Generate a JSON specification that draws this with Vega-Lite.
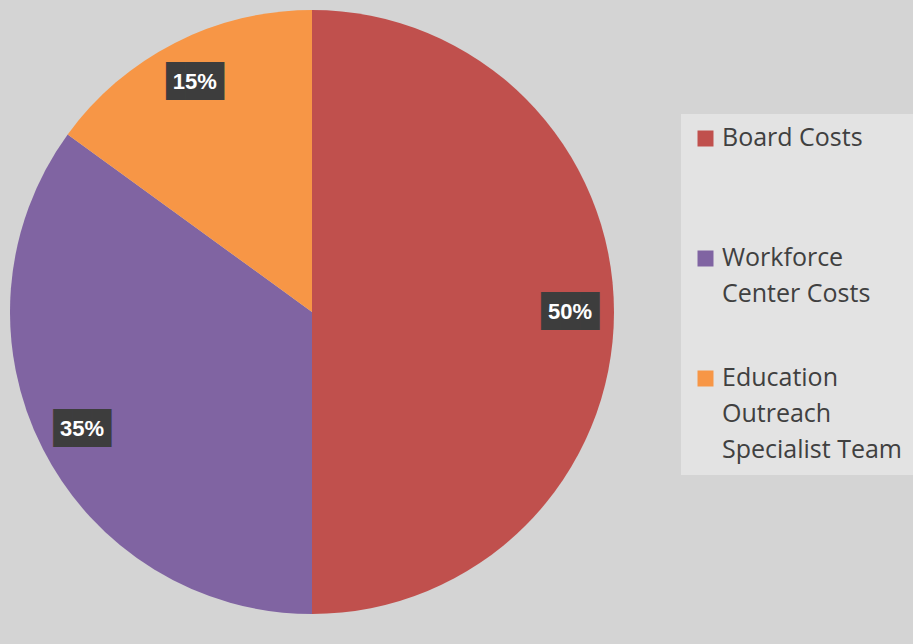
{
  "$schema": "https://vega.github.io/schema/vega-lite/v6.json",
  "width": 624,
  "height": 624,
  "padding": {"left": 0, "top": 0, "right": 0, "bottom": 20},
  "background": "#d4d4d4",
  "config": {"view": {"stroke": null}},
  "data": {
    "values": [
      {"category": "Board Costs", "share": 50, "rank": 1, "label": "50%"},
      {"category": "Workforce Center Costs", "share": 35, "rank": 2, "label": "35%"},
      {"category": "Education Outreach Specialist Team", "share": 15, "rank": 3, "label": "15%"}
    ]
  },
  "encoding": {
    "theta": {"field": "share", "type": "quantitative", "stack": true},
    "order": {"field": "rank", "type": "quantitative"}
  },
  "layer": [
    {
      "mark": {"type": "arc", "outerRadius": 302},
      "encoding": {
        "color": {
          "field": "category",
          "type": "nominal",
          "scale": {
            "domain": ["Board Costs", "Workforce Center Costs", "Education Outreach Specialist Team"],
            "range": ["#C0504D", "#8064A2", "#F79646"]
          },
          "legend": {
            "title": null,
            "orient": "none",
            "legendX": 681,
            "legendY": 114,
            "padding": 12,
            "fillColor": "#e3e3e3",
            "symbolType": "square",
            "symbolSize": 256,
            "symbolStrokeWidth": 0,
            "symbolOpacity": 1,
            "labelFont": "Open Sans",
            "labelFontSize": 25,
            "labelColor": "#404040",
            "labelOffset": 4,
            "labelLimit": 300,
            "labelBaseline": "top",
            "gridAlign": "all",
            "rowPadding": 22,
            "labelExpr": "datum.label == 'Workforce Center Costs' ? ['Workforce', 'Center Costs'] : datum.label == 'Education Outreach Specialist Team' ? ['Education', 'Outreach', 'Specialist Team'] : datum.label",
            "encode": {"labels": {"update": {"lineHeight": {"value": 36}, "dy": {"value": -13}}}}
          }
        }
      }
    },
    {
      "mark": {"type": "text", "radius": 258, "text": "███", "font": "DejaVu Sans Mono", "fontSize": 32, "color": "#3d3d3d", "baseline": "middle", "align": "center"}
    },
    {
      "mark": {"type": "text", "radius": 258, "font": "Liberation Sans", "fontWeight": "bold", "fontSize": 22, "color": "#ffffff", "baseline": "middle", "align": "center"},
      "encoding": {"text": {"field": "label", "type": "nominal"}}
    }
  ]
}
